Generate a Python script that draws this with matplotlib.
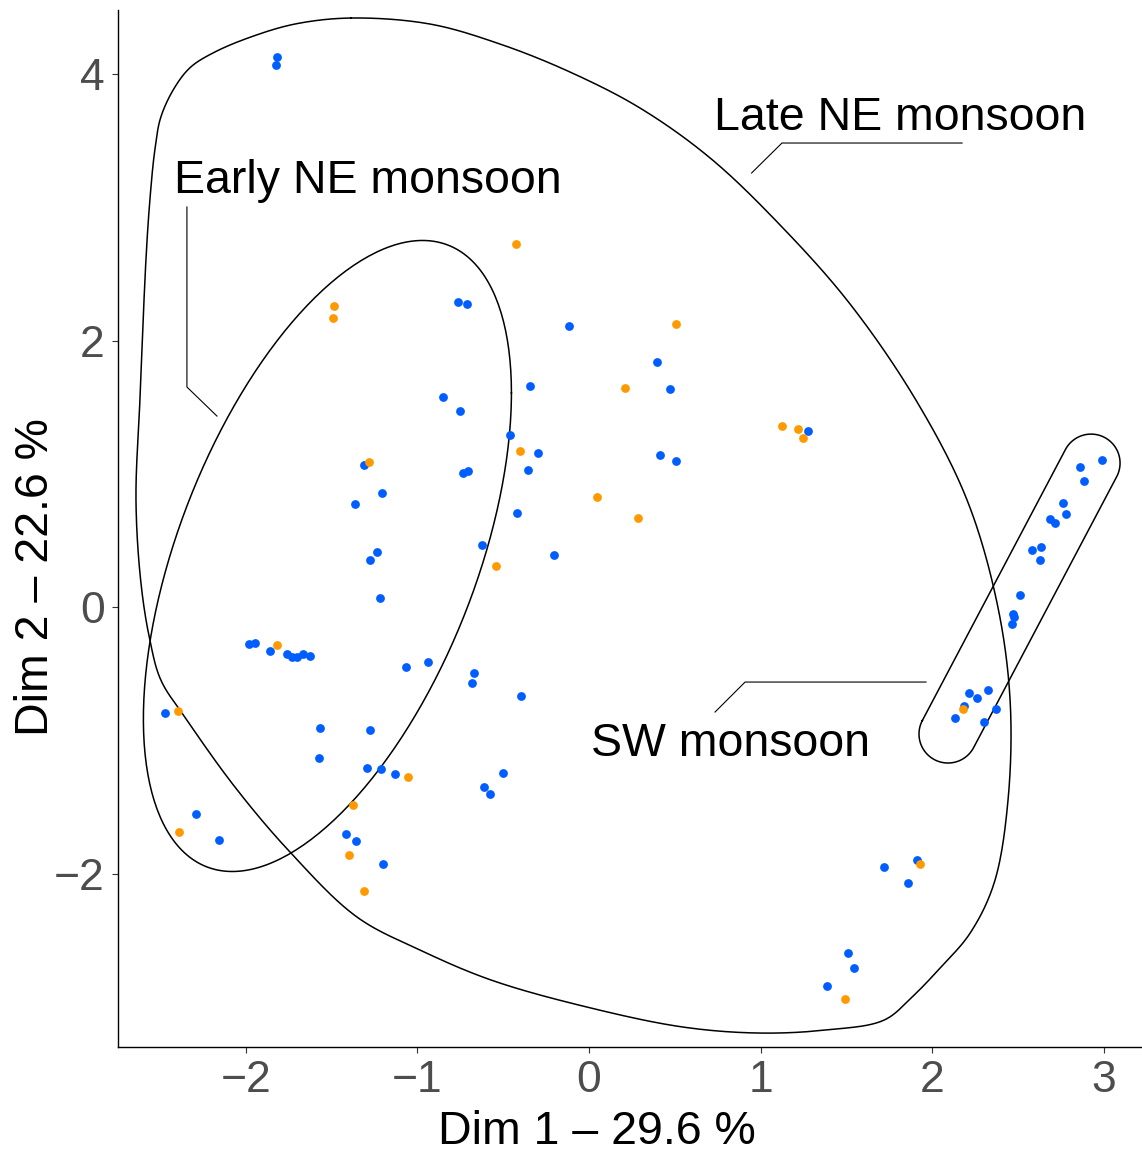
import numpy as np
import matplotlib
matplotlib.use('Agg')
import matplotlib.pyplot as plt

plt.rcParams['font.family'] = ['Liberation Sans', 'DejaVu Sans']

# individuals (PCA coordinates), coloured by group
blue_x = [-1.819, -1.825, -1.983, -1.948, -1.860, -1.763, -1.734, -1.704, -1.669, -1.625,
          -1.069, -0.941, -2.471, -1.569, -1.277, -1.574, -1.296, -1.215, -1.133, -2.290,
          -2.156, -1.419, -1.360, -1.203, -0.669, -0.680, -0.398, -0.500, -0.614, -0.577,
          -0.752, -0.459, -0.297, -1.312, -0.736, -0.704, -0.356, -1.209, -1.364, -0.422,
          -0.624, -0.206, -1.236, -1.277, -1.220, -0.762, -0.713, -0.118, 0.398, 0.472,
          -0.853, -0.346, 0.416, 0.509, 1.277, 2.993, 2.863, 2.886, 2.762, 2.781,
          2.686, 2.715, 2.585, 2.637, 2.628, 2.513, 2.474, 2.480, 2.465, 2.217,
          2.325, 2.264, 2.188, 2.134, 2.303, 2.371, 1.718, 1.913, 1.858, 1.508,
          1.547, 1.390]
blue_y = [4.128, 4.068, -0.275, -0.270, -0.328, -0.355, -0.377, -0.377, -0.353, -0.370,
          -0.448, -0.413, -0.795, -0.908, -0.925, -1.133, -1.206, -1.216, -1.256, -1.551,
          -1.749, -1.706, -1.758, -1.926, -0.493, -0.573, -0.670, -1.246, -1.351, -1.403,
          1.471, 1.293, 1.158, 1.068, 1.008, 1.018, 1.026, 0.858, 0.773, 0.705,
          0.463, 0.388, 0.411, 0.355, 0.070, 2.289, 2.274, 2.111, 1.836, 1.638,
          1.578, 1.659, 1.143, 1.096, 1.319, 1.101, 1.048, 0.946, 0.783, 0.696,
          0.663, 0.630, 0.430, 0.450, 0.350, 0.088, -0.053, -0.077, -0.130, -0.648,
          -0.623, -0.683, -0.743, -0.833, -0.863, -0.765, -1.949, -1.901, -2.069, -2.599,
          -2.709, -2.847]
orange_x = [-1.821, -2.395, -1.054, -1.378, -2.389, -1.399, -1.312, -0.427, -1.487, -1.494,
            0.509, 0.208, -1.285, -0.401, 1.125, 1.217, 1.250, 0.045, 0.284, -0.541,
            2.179, 1.930, 1.494]
orange_y = [-0.287, -0.780, -1.276, -1.484, -1.691, -1.861, -2.131, 2.722, 2.257, 2.167,
            2.126, 1.641, 1.090, 1.171, 1.358, 1.336, 1.271, 0.823, 0.666, 0.308,
            -0.763, -1.929, -2.942]

# group outlines and labels
late_x = [-1.388, -0.927, -0.519, -0.111, 0.297, 0.706, 1.114, 1.522, 1.913, 2.204,
          2.379, 2.455, 2.443, 2.362, 2.222, 2.052, 1.883, 1.720, 1.382, 0.991,
          0.548, -0.012, -0.571, -0.985, -1.353, -1.738, -2.064, -2.356, -2.496, -2.560,
          -2.612, -2.641, -2.618, -2.583, -2.560, -2.531, -2.496, -2.414, -2.321, -2.181,
          -1.971, -1.714]
late_y = [4.420, 4.375, 4.225, 4.015, 3.745, 3.370, 2.867, 2.274, 1.538, 0.803,
          0.030, -0.698, -1.448, -2.071, -2.447, -2.702, -2.927, -3.100, -3.174, -3.197,
          -3.152, -3.002, -2.799, -2.574, -2.326, -1.846, -1.351, -0.826, -0.548, -0.248,
          0.180, 0.803, 1.554, 2.604, 3.054, 3.430, 3.677, 3.902, 4.053, 4.165,
          4.278, 4.375]
early_center = (-1.525, 0.383)
early_cov = [[1.151, 1.313], [1.313, 5.606]]
sw_ends = [(2.927, 1.080), (2.093, -0.953)]

labels = ['Early NE monsoon', 'Late NE monsoon', 'SW monsoon']
label_x = [-2.420, 0.729, 0.012]
label_y = [3.107, 3.580, -1.118]
lead_x = [[-2.344, -2.344, -2.169], [2.175, 1.125, 0.948], [1.965, 0.910, 0.735]]
lead_y = [[3.002, 1.651, 1.433], [3.482, 3.482, 3.257], [-0.563, -0.563, -0.788]]


def smooth_closed(pts, n=24, alpha=0.5):
    # centripetal catmull-rom through the points (closed loop), pts in display space
    m = len(pts)
    out = []
    for i in range(m):
        p0, p1, p2, p3 = pts[i - 1], pts[i], pts[(i + 1) % m], pts[(i + 2) % m]
        t0 = 0.0
        t1 = t0 + np.linalg.norm(p1 - p0) ** alpha
        t2 = t1 + np.linalg.norm(p2 - p1) ** alpha
        t3 = t2 + np.linalg.norm(p3 - p2) ** alpha
        t = np.linspace(t1, t2, n, endpoint=False)[:, None]
        a1 = (t1 - t) / (t1 - t0) * p0 + (t - t0) / (t1 - t0) * p1
        a2 = (t2 - t) / (t2 - t1) * p1 + (t - t1) / (t2 - t1) * p2
        a3 = (t3 - t) / (t3 - t2) * p2 + (t - t2) / (t3 - t2) * p3
        b1 = (t2 - t) / (t2 - t0) * a1 + (t - t0) / (t2 - t0) * a2
        b2 = (t3 - t) / (t3 - t1) * a2 + (t - t1) / (t3 - t1) * a3
        out.append((t2 - t) / (t2 - t1) * b1 + (t - t1) / (t2 - t1) * b2)
    out = np.vstack(out)
    return np.vstack([out, out[:1]])


fig = plt.figure(figsize=(11.42, 11.53), dpi=100)
ax = fig.add_axes([0.1033, 0.0919, 0.8967, 0.8994])
ax.set_xlim(-2.746, 3.224)
ax.set_ylim(-3.302, 4.480)

ax.scatter(blue_x, blue_y, s=40, color='#005EFF', linewidths=0, zorder=3)
ax.scatter(orange_x, orange_y, s=40, color='#FF9900', linewidths=0, zorder=3)

# Late NE hull, smoothed in display space
disp = ax.transData.transform(np.column_stack([late_x, late_y]))
hull = ax.transData.inverted().transform(smooth_closed(disp))
ax.plot(hull[:, 0], hull[:, 1], color='black', lw=1.1, zorder=2)

# Early NE ellipse
t = np.linspace(0, 2 * np.pi, 300)
L = np.linalg.cholesky(np.array(early_cov))
e = L @ np.vstack([np.cos(t), np.sin(t)])
ax.plot(early_center[0] + e[0], early_center[1] + e[1], color='black', lw=1.1, zorder=2)

# SW capsule, built in display space so the round ends stay round
p1, p2 = ax.transData.transform(sw_ends)
d = (p2 - p1) / np.linalg.norm(p2 - p1)
phi = np.arctan2(d[1], d[0])
r = 29 * fig.dpi / 100
a2 = np.linspace(phi - np.pi / 2, phi + np.pi / 2, 60)
a1 = np.linspace(phi + np.pi / 2, phi + 3 * np.pi / 2, 60)
cap = np.vstack([p2 + r * np.column_stack([np.cos(a2), np.sin(a2)]),
                 p1 + r * np.column_stack([np.cos(a1), np.sin(a1)])])
cap = np.vstack([cap, cap[:1]])
cap = ax.transData.inverted().transform(cap)
ax.plot(cap[:, 0], cap[:, 1], color='black', lw=1.1, zorder=2)

for lab, lx, ly, cx, cy in zip(labels, label_x, label_y, lead_x, lead_y):
    ax.text(lx, ly, lab, fontsize=33.5, ha='left', va='baseline', color='black', zorder=4)
    ax.plot(cx, cy, color='black', lw=0.8, zorder=2)

for s in ['top', 'right']:
    ax.spines[s].set_visible(False)
for s in ['left', 'bottom']:
    ax.spines[s].set_linewidth(1.0)
    ax.spines[s].set_color('black')

ax.set_xticks([-2, -1, 0, 1, 2, 3])
ax.set_yticks([-2, 0, 2, 4])
ax.set_xticklabels(['\u22122', '\u22121', '0', '1', '2', '3'])
ax.set_yticklabels(['\u22122', '0', '2', '4'])
ax.tick_params(labelsize=32, labelcolor='#4D4D4D', color='#333333', length=4.5, width=0.8, pad=5)

ax.set_xlabel('Dim 1 \u2013 29.6 %', fontsize=33.5, va='center')
ax.set_ylabel('Dim 2 \u2013 22.6 %', fontsize=33.5, va='center')
ax.xaxis.set_label_coords(0.468, -0.082)
ax.yaxis.set_label_coords(-0.080, 0.453)

fig.savefig('out.png', dpi=100)
